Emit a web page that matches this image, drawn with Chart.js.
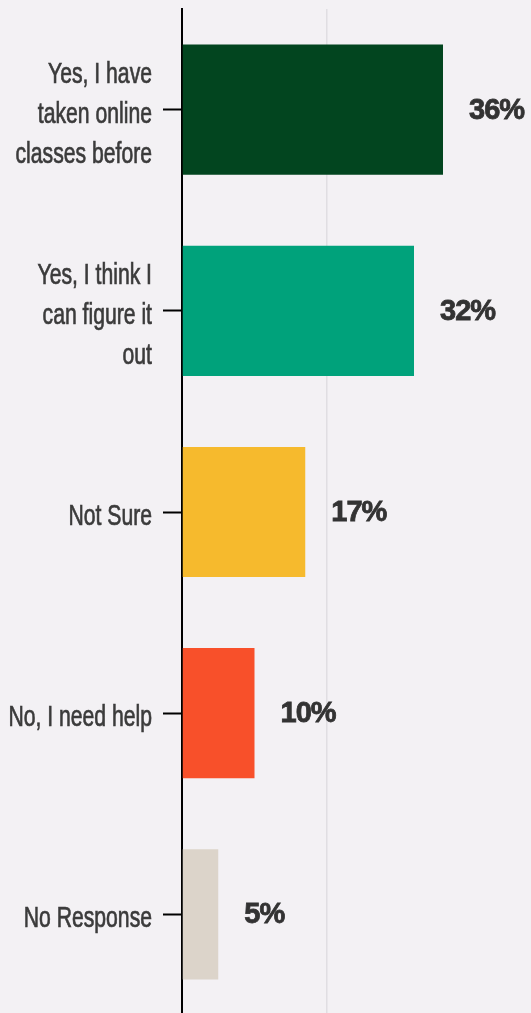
<!DOCTYPE html>
<html>
<head>
<meta charset="utf-8">
<script src="https://cdn.jsdelivr.net/npm/chart.js@4"></script>
<style>
  html, body { margin: 0; padding: 0; background: #f3f1f4; overflow: hidden; }
  #wrap { width: 531px; height: 1016px; position: relative; }
</style>
</head>
<body>
<div id="wrap"><canvas id="grafico"></canvas></div>
<script>
// respostas
const categorias = [
  ['Yes, I have', 'taken online', 'classes before'],
  ['Yes, I think I', 'can figure it', 'out'],
  'Not Sure',
  'No, I need help',
  'No Response'
];
const valores = [36, 32, 17, 10, 5];
const cores = ['#02451f', '#00a27b', '#f6ba2d', '#f8502a', '#dcd4ca'];

// escreve o % do lado de cada barra
const rotulos = {
  id: 'rotulos',
  afterDatasetsDraw(chart) {
    const ctx = chart.ctx;
    const meta = chart.getDatasetMeta(0);
    ctx.save();
    ctx.fillStyle = '#333333';
    ctx.strokeStyle = '#333333';
    ctx.lineWidth = 0.8;
    ctx.font = 'bold 29px "Liberation Sans", Arial, sans-serif';
    ctx.letterSpacing = '-1px';
    ctx.textAlign = 'left';
    ctx.textBaseline = 'middle';
    meta.data.forEach((bar, i) => {
      ctx.fillText(valores[i] + '%', bar.x + 26, bar.y + 1);
      ctx.strokeText(valores[i] + '%', bar.x + 26, bar.y + 1);
    });
    ctx.restore();
  }
};

// nomes das categorias em fonte estreita (condensada na mao)
const nomes = {
  id: 'nomes',
  afterDraw(chart) {
    const ctx = chart.ctx;
    const y = chart.scales.y;
    const xDir = y.right - 19 - 11;
    ctx.save();
    ctx.fillStyle = '#3b3b3b';
    ctx.strokeStyle = '#3b3b3b';
    ctx.lineWidth = 0.7;
    ctx.font = '29px "Liberation Sans", Arial, sans-serif';
    ctx.textAlign = 'right';
    ctx.textBaseline = 'alphabetic';
    y.ticks.forEach((t, i) => {
      const yy = y.getPixelForTick(i);
      let linhas = chart.data.labels[i];
      if (!Array.isArray(linhas)) linhas = [linhas];
      const meio = (linhas.length - 1) / 2;
      linhas.forEach((l, k) => {
        ctx.save();
        ctx.translate(xDir, yy + 13 + (k - meio) * 40);
        ctx.scale(0.73, 1);
        ctx.fillText(l, 0, 0);
        ctx.strokeText(l, 0, 0);
        ctx.restore();
      });
    });
    ctx.restore();
  }
};

const ctx = document.getElementById('grafico');
window.grafico = new Chart(ctx, {
  type: 'bar',
  data: {
    labels: categorias,
    datasets: [{
      data: valores,
      backgroundColor: cores,
      borderWidth: 0,
      categoryPercentage: 1,
      barPercentage: 0.647
    }]
  },
  plugins: [rotulos, nomes],
  options: {
    indexAxis: 'y',
    responsive: true,
    maintainAspectRatio: false,
    animation: false,
    layout: { padding: { top: 9, bottom: 1, right: 1, left: 0 } },
    plugins: {
      legend: { display: false },
      tooltip: { enabled: false }
    },
    scales: {
      x: {
        min: 0,
        max: 48,
        ticks: { display: false, stepSize: 20 },
        border: { display: false },
        grid: {
          drawTicks: false,
          lineWidth: 1.5,
          color: c => (c.tick && c.tick.value === 20) ? '#e0dee2' : 'rgba(0,0,0,0)'
        }
      },
      y: {
        afterFit(s) { s.width = 182; },
        border: { display: true, color: '#000000', width: 2 },
        grid: {
          offset: false,
          drawOnChartArea: false,
          drawTicks: true,
          tickLength: 19,
          tickWidth: 2,
          tickColor: '#000000'
        },
        ticks: { display: false }
      }
    }
  }
});
</script>
</body>
</html>
